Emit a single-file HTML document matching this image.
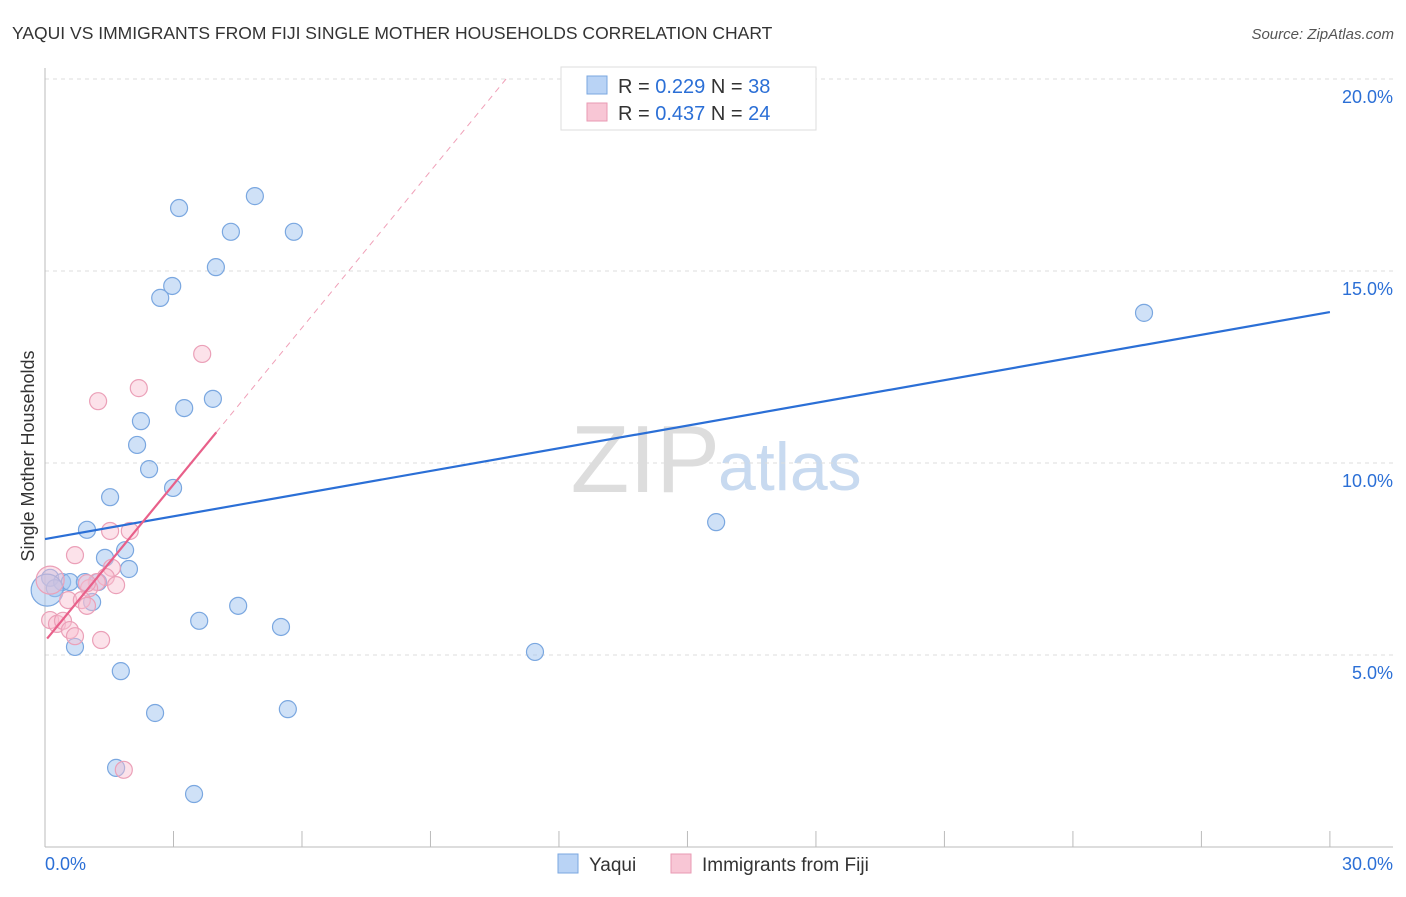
<!DOCTYPE html>
<html><head><meta charset="utf-8"><style>
body{margin:0;background:#fff;font-family:"Liberation Sans",sans-serif}
svg text{font-family:"Liberation Sans",sans-serif}
</style></head><body>
<svg id="c" width="1406" height="892">
<text x="12" y="39" font-size="17.5" fill="#333">YAQUI VS IMMIGRANTS FROM FIJI SINGLE MOTHER HOUSEHOLDS CORRELATION CHART</text>
<text x="1394" y="39" font-size="15" fill="#555" font-style="italic" text-anchor="end">Source: ZipAtlas.com</text>
<text x="720" y="492" font-size="96" fill="#ddd" font-family="Liberation Serif,serif" text-anchor="end">ZIP</text>
<text x="718" y="490" font-size="68" fill="#c8daf0">atlas</text>
<text transform="translate(34,456) rotate(-90)" font-size="18" fill="#333" text-anchor="middle">Single Mother Households</text>
<g id="grid"></g><g id="pts"></g><g id="lines"></g>
<g>
<rect x="561" y="67" width="255" height="63" fill="#fff" stroke="#ddd"/>
<rect x="587" y="76" width="20" height="18" fill="#b9d3f5" stroke="#7aa7e0"/>
<rect x="587" y="103" width="20" height="18" fill="#f8c6d5" stroke="#e99ab3"/>
<text x="618" y="93" font-size="20" fill="#333">R = <tspan fill="#2b6fd6">0.229</tspan>   N = <tspan fill="#2b6fd6">38</tspan></text>
<text x="618" y="120" font-size="20" fill="#333">R = <tspan fill="#2b6fd6">0.437</tspan>   N = <tspan fill="#2b6fd6">24</tspan></text>
</g>
<g>
<rect x="558" y="854" width="20" height="19" fill="#b9d3f5" stroke="#7aa7e0"/>
<text x="589" y="871" font-size="19" fill="#333">Yaqui</text>
<rect x="671" y="854" width="20" height="19" fill="#f8c6d5" stroke="#e99ab3"/>
<text x="702" y="871" font-size="19" fill="#333">Immigrants from Fiji</text>
</g>
</svg>
<script>
const xTicks=[0,30];
const yTicks=[5,10,15,20];
const blueX=[4.90,3.13,4.34,5.81,3.99,2.97,2.69,25.66,3.92,3.25,2.24,2.15,2.43,2.99,1.52,15.67,0.98,1.87,1.40,1.96,0.12,0.40,0.58,0.93,1.24,0.23,1.10,4.51,3.60,5.51,0.70,11.44,1.77,2.57,5.67,1.66,3.48,0.05];
const blueY=[16.95,16.64,16.02,16.02,15.10,14.61,14.30,13.91,11.67,11.43,11.09,10.47,9.84,9.35,9.11,8.46,8.26,7.73,7.53,7.24,7.01,6.90,6.90,6.90,6.90,6.74,6.38,6.28,5.89,5.73,5.21,5.08,4.58,3.49,3.59,2.06,1.38,6.69];
const pinkX=[3.67,2.19,1.24,1.52,1.98,0.70,1.56,1.42,1.66,1.21,1.03,0.54,0.86,0.98,0.12,0.28,0.42,0.58,0.70,1.31,1.84,0.12,0.98];
const pinkY=[12.84,11.95,11.61,8.23,8.23,7.60,7.27,7.03,6.82,6.90,6.74,6.43,6.43,6.28,5.91,5.81,5.89,5.65,5.49,5.39,2.01,6.95,6.87];
const blueLine=[8.02,13.93];
const pinkLine=[5.36,1.36];
const NS="http://www.w3.org/2000/svg";
const X=v=>45+v*42.83, Y=v=>847-v*38.4;
function mk(t,a,p){const e=document.createElementNS(NS,t);for(const k in a)e.setAttribute(k,a[k]);document.getElementById(p).appendChild(e);return e;}
for(const t of yTicks){
 const l=mk('line',{x1:45,x2:1393,y1:Y(t),y2:Y(t),stroke:'#ddd','stroke-dasharray':'4,4'},'grid');
 
 
 const tx=mk('text',{x:1393,y:Y(t)+24,'font-size':18,fill:'#2b6fd6','text-anchor':'end'},'grid');
 tx.textContent=t.toFixed(1)+'%';
 
 
}
mk('line',{x1:45,x2:45,y1:68,y2:847,stroke:'#bbb'},'grid');
mk('line',{x1:45,x2:1393,y1:847,y2:847,stroke:'#bbb'},'grid');
for(let i=0;i<=10;i++){const x=X(i*3);mk('line',{x1:x,x2:x,y1:831,y2:847,stroke:'#bbb'},'grid');}
xTicks.forEach((t,i)=>{
 const tx=mk('text',{x:i?1393:45,y:870,'font-size':18,fill:'#2b6fd6','text-anchor':i?'end':'start'},'grid');
 tx.textContent=t.toFixed(1)+'%';
 
 
});
blueX.forEach((x,i)=>{
 const c=mk('circle',{cx:X(x),cy:Y(blueY[i]),r:i==blueX.length-1?16:8.5,fill:'rgba(160,196,240,0.5)',stroke:'#7aa7e0','stroke-width':1.2},'pts');
 
 
});
pinkX.forEach((x,i)=>{
 const c=mk('circle',{cx:X(x),cy:Y(pinkY[i]),r:i==21?14:8.5,fill:'rgba(248,190,208,0.45)',stroke:'#eba0b8','stroke-width':1.2},'pts');
 
 
});
const bl=mk('line',{x1:X(0),y1:Y(blueLine[0]),x2:X(30),y2:Y(blueLine[1]),stroke:'#2b6fd6','stroke-width':2.2},'lines');


const pEnd=(20-pinkLine[0])/pinkLine[1];
const pd=mk('line',{x1:X(4),y1:Y(pinkLine[0]+4*pinkLine[1]),x2:X(pEnd),y2:Y(20),stroke:'#f0a0b8','stroke-width':1,'stroke-dasharray':'6,5'},'lines');


const pl=mk('line',{x1:X(0.05),y1:Y(pinkLine[0]+0.05*pinkLine[1]),x2:X(4),y2:Y(pinkLine[0]+4*pinkLine[1]),stroke:'#e8608a','stroke-width':2.2},'lines');


</script>
</body></html>
